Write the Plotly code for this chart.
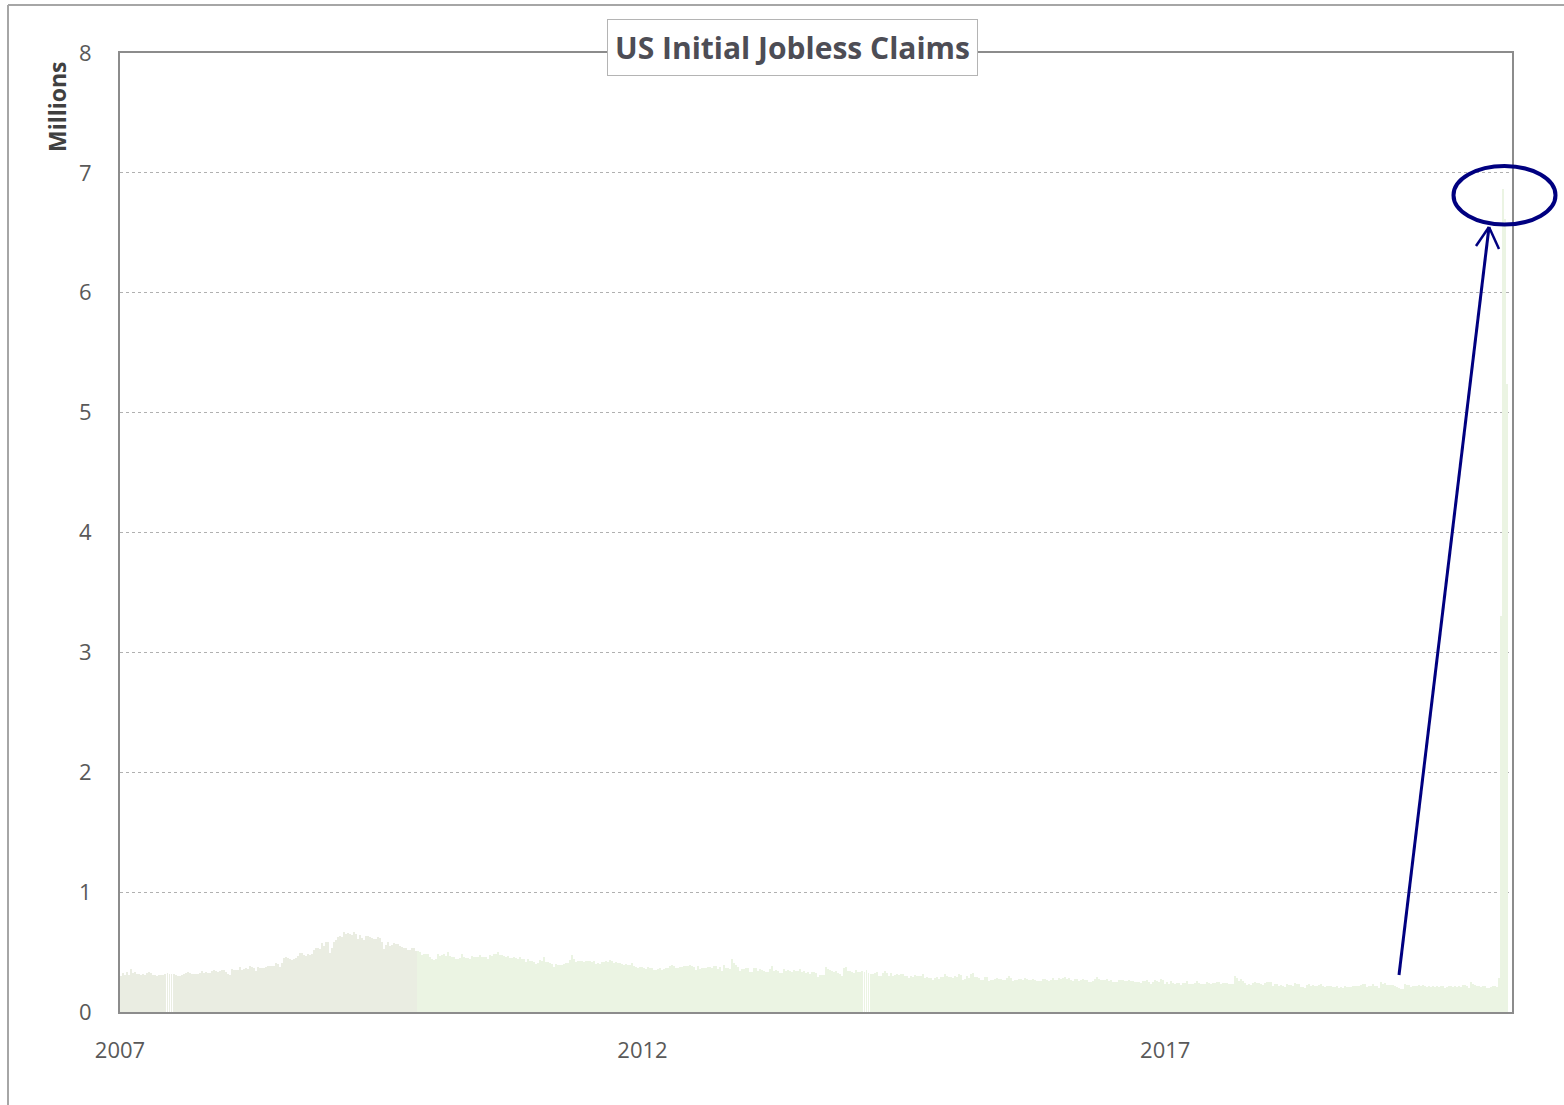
import pandas as pd
import plotly.graph_objects as go

# Weekly US initial jobless claims (thousands), seasonally adjusted, week ending Saturday
claims_2007 = [300, 325, 310, 333, 310, 357, 329, 335, 320, 318, 311, 321, 309, 324, 336, 322, 307,
               310, 304, 312, 310, 312, 314, 324, 313, 320, 314, 309, 302, 301, 307, 316, 327, 330,
               322, 313, 314, 313, 317, 324, 339, 329, 330, 327, 326, 338, 352, 338, 337, 344, 348, 347]
claims_2008 = [330, 315, 305, 360, 350, 348, 354, 372, 349, 356, 369, 358, 380, 375, 365, 344, 374,
               365, 363, 364, 372, 380, 387, 382, 384, 408, 404, 376, 412, 448, 458, 450, 440, 436, 446,
               452, 465, 494, 493, 478, 470, 481, 479, 481, 517, 533, 531, 524, 573, 553, 586, 588]
claims_2009 = [491, 535, 585, 600, 626, 631, 627, 667, 647, 658, 652, 642, 665, 654, 613, 643, 620,
               601, 636, 631, 623, 621, 608, 608, 627, 614, 588, 524, 556, 585, 553, 559, 578, 566, 570,
               554, 545, 531, 534, 521, 514, 531, 530, 512, 507, 501, 472, 482, 484, 487, 459, 445]
claims_2010 = [432, 446, 484, 470, 478, 482, 471, 497, 470, 463, 457, 446, 443, 454, 484, 457, 453,
               449, 446, 467, 462, 459, 458, 474, 460, 462, 463, 438, 474, 467, 484, 484, 500, 476, 474,
               467, 458, 468, 451, 451, 460, 454, 439, 460, 444, 440, 416, 440, 426, 424, 418, 400]
claims_2011 = [410, 436, 426, 458, 419, 414, 405, 397, 378, 398, 391, 393, 393, 397, 411, 410, 431, 474,
               438, 415, 426, 423, 425, 420, 426, 428, 423, 417, 425, 401, 406, 398, 414, 417, 423,
               420, 431, 427, 406, 413, 409, 409, 399, 396, 397, 390, 394, 408, 386, 375, 367, 378, 373]
claims_2012 = [370, 357, 379, 370, 366, 352, 353, 357, 364, 353, 359, 363, 370, 386, 389, 384, 370,
               368, 372, 373, 381, 383, 387, 389, 384, 376, 353, 387, 355, 371, 366, 368, 374, 374,
               367, 385, 381, 361, 372, 342, 392, 370, 364, 361, 439, 410, 394, 378, 345, 361, 357, 370]
claims_2013 = [371, 335, 330, 368, 366, 342, 362, 347, 341, 332, 336, 357, 385, 346, 352, 339, 324,
               327, 360, 344, 354, 346, 334, 354, 346, 343, 360, 334, 343, 326, 333, 320, 336, 331, 323,
               292, 309, 305, 308, 374, 358, 350, 340, 336, 339, 323, 316, 298, 368, 379, 338, 339]
claims_2014 = [330, 326, 348, 331, 331, 339, 334, 348, 324, 315, 320, 326, 332, 300, 304, 329, 344,
               326, 297, 326, 300, 312, 317, 312, 314, 315, 304, 302, 284, 302, 289, 311, 298, 298, 304,
               316, 281, 295, 287, 287, 264, 284, 288, 278, 290, 292, 313, 297, 294, 289, 280, 298]
claims_2015 = [294, 316, 307, 265, 279, 304, 283, 313, 325, 289, 291, 282, 265, 268, 294, 295, 262,
               265, 264, 274, 282, 276, 279, 267, 271, 281, 297, 281, 255, 267, 270, 274, 277, 271, 282,
               275, 264, 267, 277, 263, 255, 259, 260, 276, 276, 271, 260, 268, 282, 271, 267, 287]
claims_2016 = [277, 284, 293, 278, 285, 269, 262, 272, 278, 259, 265, 276, 267, 267, 253, 248, 257, 274,
               294, 278, 268, 267, 264, 277, 259, 268, 254, 253, 253, 266, 269, 266, 262, 261, 263,
               259, 260, 251, 254, 249, 246, 260, 258, 265, 254, 235, 251, 268, 258, 254, 275, 265, 235]
claims_2017 = [247, 234, 259, 246, 234, 239, 244, 223, 243, 241, 258, 234, 234, 234, 243, 257, 238,
               236, 232, 234, 248, 245, 237, 241, 244, 248, 247, 233, 245, 240, 244, 232, 235, 236,
               298, 284, 259, 272, 260, 243, 222, 233, 229, 239, 249, 240, 238, 236, 225, 245, 247, 250]
claims_2018 = [250, 216, 233, 230, 221, 229, 219, 210, 231, 226, 229, 215, 242, 233, 232, 209, 211,
               203, 222, 234, 221, 222, 218, 218, 227, 232, 214, 207, 217, 218, 213, 212, 210, 213,
               203, 205, 202, 214, 207, 210, 210, 215, 214, 214, 216, 224, 234, 231, 206, 214, 217, 231]
claims_2019 = [216, 213, 200, 253, 234, 239, 225, 226, 223, 229, 221, 211, 202, 196, 192, 230, 228,
               228, 212, 215, 218, 218, 222, 216, 227, 221, 209, 216, 206, 217, 209, 219, 209, 215, 217,
               204, 208, 215, 220, 210, 214, 212, 218, 211, 225, 227, 213, 203, 252, 234, 222, 220]
claims_2020 = [214, 207, 220, 216, 201, 203, 210, 219, 217, 211, 282, 3307, 6867, 6615, 5237]

yearly = {2007: claims_2007, 2008: claims_2008, 2009: claims_2009, 2010: claims_2010,
          2011: claims_2011, 2012: claims_2012, 2013: claims_2013, 2014: claims_2014,
          2015: claims_2015, 2016: claims_2016, 2017: claims_2017, 2018: claims_2018,
          2019: claims_2019, 2020: claims_2020}

tick_vals = ["2007-01-01", "2012-01-01", "2017-01-01"]
tick_text = ["2007", "2012", "2017"]
y_ticks = [0, 1, 2, 3, 4, 5, 6, 7, 8]
colour_change = pd.Timestamp("2009-11-01")

dates, values = [], []
for yr, vals in yearly.items():
    wk = pd.date_range(f"{yr}-01-01", f"{yr}-12-31", freq="W-SAT")
    for d, v in zip(wk, vals):
        dates.append(d)
        values.append(v / 1000.0)

colors = ["#eaede2" if d < colour_change else "#ebf4e3" for d in dates]

W, H = 1564, 1105
L, R, T, B = 120, 1512, 53, 1012


def px(x):
    return (x - L) / (R - L)


def py(y):
    return (B - y) / (B - T)


fig = go.Figure()
fig.add_trace(go.Bar(x=dates, y=values, marker=dict(color=colors, line=dict(width=0)),
                     width=0.5 * 7 * 24 * 3600 * 1000, showlegend=False, hoverinfo="x+y"))

navy = "#000080"
shapes = [
    # outer chart border
    dict(type="line", xref="paper", yref="paper", x0=px(8), y0=py(5), x1=px(1600), y1=py(5),
         line=dict(color="#a6a6a6", width=2)),
    dict(type="line", xref="paper", yref="paper", x0=px(8), y0=py(5), x1=px(8), y1=py(1140),
         line=dict(color="#a6a6a6", width=2)),
    # arrow
    dict(type="line", xref="paper", yref="paper", x0=px(1399), y0=py(975), x1=px(1489), y1=py(227),
         line=dict(color=navy, width=3)),
    dict(type="line", xref="paper", yref="paper", x0=px(1489), y0=py(227), x1=px(1476), y1=py(246),
         line=dict(color=navy, width=2.5)),
    dict(type="line", xref="paper", yref="paper", x0=px(1489), y0=py(227), x1=px(1499), y1=py(249),
         line=dict(color=navy, width=2.5)),
    # ellipse
    dict(type="circle", xref="paper", yref="paper", x0=px(1453.5), x1=px(1555.5),
         y0=py(224.5), y1=py(166), line=dict(color=navy, width=4)),
]

annotations = [
    dict(text="<b>US Initial Jobless Claims</b>", xref="paper", yref="paper",
         x=px(792.5), y=py(47.5), xanchor="center", yanchor="middle", showarrow=False,
         font=dict(family="Open Sans", size=30, color="#4d4d55"),
         bgcolor="white", bordercolor="#b4b4b4", borderwidth=1, borderpad=7),
    dict(text="<b>Millions</b>", xref="paper", yref="paper", x=px(57), y=py(107),
         xanchor="center", yanchor="middle", textangle=-90, showarrow=False,
         font=dict(family="Open Sans", size=23, color="#404040")),
]

fig.update_layout(
    width=W, height=H,
    margin=dict(l=L, r=W - R, t=T, b=H - B, pad=0),
    paper_bgcolor="white", plot_bgcolor="white",
    bargap=0,
    shapes=shapes, annotations=annotations,
    font=dict(family="Open Sans", size=22, color="#595959"),
    xaxis=dict(type="date", range=["2007-01-01", "2020-04-27"], tickvals=tick_vals,
               ticktext=tick_text, showgrid=False, showline=True, mirror=True,
               linecolor="#8c8c8c", linewidth=2, ticks="outside", ticklen=18,
               tickcolor="rgba(0,0,0,0)", zeroline=False,
               tickfont=dict(family="Open Sans", size=22, color="#595959")),
    yaxis=dict(range=[0, 8], tickvals=y_ticks, showgrid=True, gridcolor="#b0b0b0",
               griddash="dot", gridwidth=1, showline=True, mirror=True,
               linecolor="#8c8c8c", linewidth=2, ticks="outside", ticklen=22,
               tickcolor="rgba(0,0,0,0)", zeroline=False,
               tickfont=dict(family="Open Sans", size=22, color="#595959")),
)

fig.write_html("out.html")
